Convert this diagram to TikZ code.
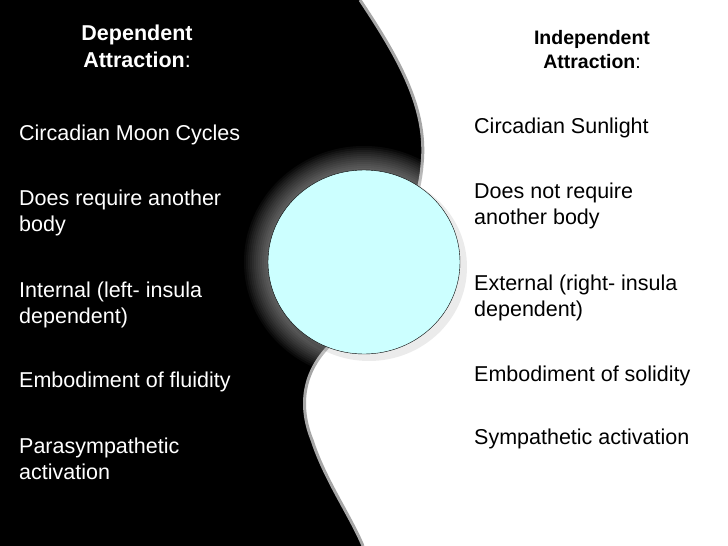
\documentclass[tikz,border=0pt]{standalone}
\usepackage{fontspec}
\setmainfont{Liberation Sans}
\usetikzlibrary{shapes.geometric}
\definecolor{moon}{RGB}{204,255,255}
\begin{document}
\begin{tikzpicture}[x=1pt,y=-1pt,
  txt/.style={anchor=west,align=left,font=\fontsize{21.5}{26}\selectfont,inner sep=0pt},
  hd/.style={align=center,font=\fontsize{21.5}{27}\selectfont,inner sep=0pt}]
\useasboundingbox (0,0) rectangle (728,546);
\fill[white] (0,0) rectangle (728,546);
\fill[black] (0,0) -- (360,0) .. controls (400,60) and (428,110) .. (422,165)
  .. controls (418,220) and (380,280) .. (330,345)
  .. controls (300,375) and (300,410) .. (312,440)
  .. controls (325,480) and (350,515) .. (363,546) -- (0,546) -- cycle;
\draw[gray!70,line width=3pt] (360,0) .. controls (400,60) and (428,110) .. (422,165)
  .. controls (418,220) and (380,280) .. (330,345)
  .. controls (300,375) and (300,410) .. (312,440)
  .. controls (325,480) and (350,515) .. (363,546);
\foreach \r in {24,22,...,2}
  \fill[white,opacity=0.04] (364,262) ellipse ({96+\r} and {92+\r});
\fill[black,opacity=0.08] (369,267) ellipse (98 and 94);
\node[draw=black,fill=moon,ellipse,minimum width=192pt,minimum height=184pt,inner sep=0pt,line width=0.4pt] (c) at (364,262) {};
\node[hd,text=white] (lh) at (137,46) {\textbf{Dependent}\\\textbf{Attraction}:};
\node[hd,text=black,font=\fontsize{19.5}{24}\selectfont] (rh) at (592,50) {\textbf{Independent}\\\textbf{Attraction}:};
\begin{scope}[every node/.append style={text=white}]
\node[txt] (l1) at (19,135) {Circadian Moon Cycles};
\node[txt] (l2) at (19,213) {Does require another\\body};
\node[txt] (l3) at (19,305) {Internal (left- insula\\dependent)};
\node[txt] (l4) at (19,382) {Embodiment of fluidity};
\node[txt] (l5) at (19,459) {Parasympathetic\\activation};
\end{scope}
\node[txt] (r1) at (474,128) {Circadian Sunlight};
\node[txt] (r2) at (474,206) {Does not require\\another body};
\node[txt] (r3) at (474,298) {External (right- insula\\dependent)};
\node[txt] (r4) at (474,376) {Embodiment of solidity};
\node[txt] (r5) at (474,439) {Sympathetic activation};
\end{tikzpicture}
\end{document}
